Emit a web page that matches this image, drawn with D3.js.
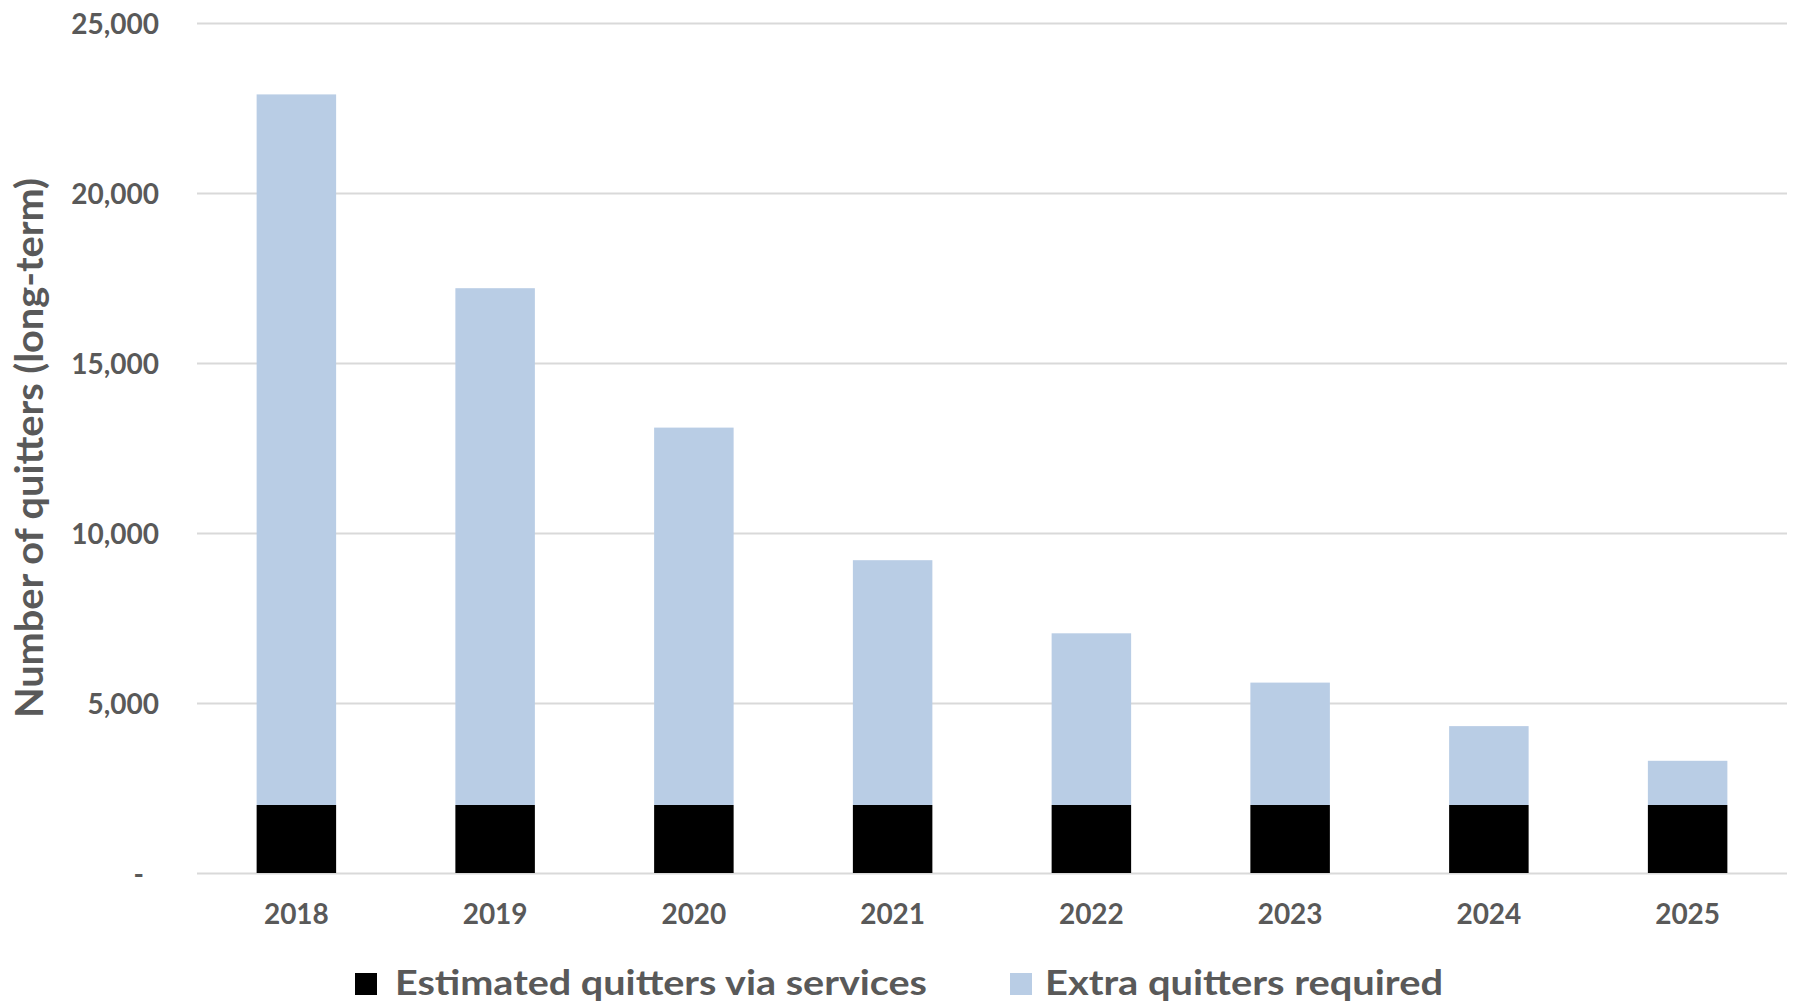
<!DOCTYPE html>
<html>
<head>
<meta charset="utf-8">
<script src="https://cdn.jsdelivr.net/npm/d3@7"></script>
<style>
  html, body { margin: 0; padding: 0; background: #ffffff; }
  svg { display: block; }
  text { font-family: "Lato", "Open Sans", sans-serif; font-weight: 700; fill: #595959; }
</style>
</head>
<body>
<svg id="chart" width="1794" height="1003"></svg>
<script>
const years = ["2018", "2019", "2020", "2021", "2022", "2023", "2024", "2025"];
const viaServices = [2000, 2000, 2000, 2000, 2000, 2000, 2000, 2000];
const extraRequired = [20900, 15200, 11100, 7200, 5050, 3600, 2320, 1300];
const yTicks = [0, 5000, 10000, 15000, 20000, 25000];
const seriesNames = ["Estimated quitters via services", "Extra quitters required"];
const seriesColors = ["#000000", "#b9cde5"];
const yTitle = "Number of quitters (long-term)";

const svg = d3.select("#chart");
const W = 1794, H = 1003;
const m = { left: 197, right: 7, top: 23, bottom: 130 };

const x = d3.scaleBand().domain(years)
  .range([m.left, W - m.right]).paddingInner(0.6).paddingOuter(0.3);
const y = d3.scaleLinear().domain([0, 25000]).range([H - m.bottom, m.top]);

// gridlines
const grid = svg.append("g")
  .attr("transform", `translate(${m.left},0)`)
  .call(d3.axisLeft(y).tickValues(yTicks).tickSize(-(W - m.right - m.left)).tickFormat(""));
grid.select(".domain").remove();
grid.selectAll("line").attr("stroke", "#d9d9d9").attr("stroke-width", 2);

// stacked data
const rows = years.map((yr, i) => ({ year: yr, s0: viaServices[i], s1: extraRequired[i] }));
const stack = d3.stack().keys(["s0", "s1"])(rows);

svg.append("g").selectAll("g").data(stack).join("g")
  .attr("fill", (d, i) => seriesColors[i])
  .selectAll("rect").data(d => d).join("rect")
  .attr("x", d => x(d.data.year))
  .attr("width", x.bandwidth())
  .attr("y", d => y(d[1]))
  .attr("height", d => y(d[0]) - y(d[1]));

// y axis labels
const fmt = d3.format(",");
const yAxis = svg.append("g")
  .attr("transform", `translate(${m.left - 38},0)`)
  .call(d3.axisLeft(y).tickValues(yTicks).tickSize(0).tickPadding(0)
    .tickFormat(v => v === 0 ? "-" : fmt(v)));
yAxis.select(".domain").remove();
yAxis.selectAll("text")
  .attr("font-size", 28).attr("font-family", "Lato").attr("font-weight", 700)
  .attr("fill", "#595959").attr("dy", "0.36em")
  .attr("x", v => v === 0 ? -15 : 0);

// x axis labels
const xAxis = svg.append("g")
  .attr("transform", `translate(0,${H - m.bottom})`)
  .call(d3.axisBottom(x).tickSize(0).tickPadding(0));
xAxis.select(".domain").remove();
xAxis.selectAll("text")
  .attr("font-size", 28).attr("font-family", "Lato").attr("font-weight", 700)
  .attr("fill", "#595959").attr("dy", 0).attr("y", 51);

// y title
svg.append("text")
  .attr("transform", `translate(43,${(y(0) + y(25000)) / 2}) rotate(-90)`)
  .attr("text-anchor", "middle")
  .attr("font-size", 39)
  .attr("textLength", 540).attr("lengthAdjust", "spacingAndGlyphs")
  .text(yTitle);

// legend
const legendItems = [
  { sq: 355, tx: 395, len: 532 },
  { sq: 1010, tx: 1045, len: 398 }
];
const lg = svg.append("g");
seriesNames.forEach((name, i) => {
  lg.append("rect").attr("x", legendItems[i].sq).attr("y", 973)
    .attr("width", 22).attr("height", 22).attr("fill", seriesColors[i]);
  lg.append("text").attr("x", legendItems[i].tx).attr("y", 995)
    .attr("font-size", 35)
    .attr("textLength", legendItems[i].len).attr("lengthAdjust", "spacingAndGlyphs")
    .text(name);
});
</script>
</body>
</html>
